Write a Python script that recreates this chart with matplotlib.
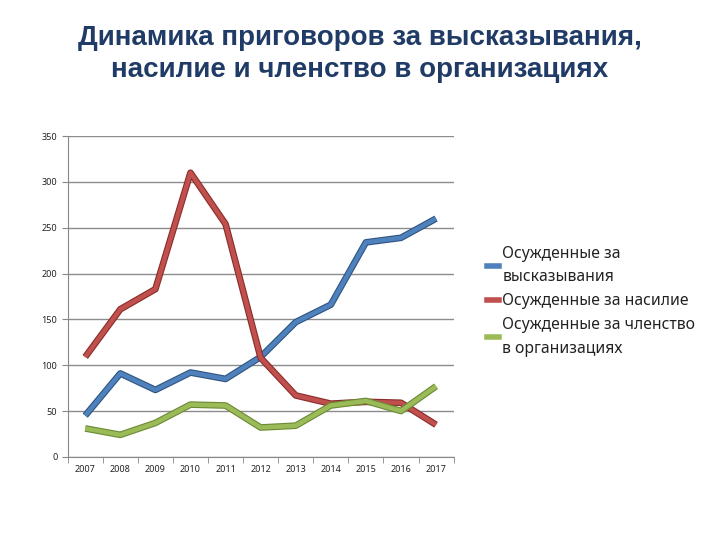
import matplotlib
matplotlib.use("Agg")
import matplotlib.pyplot as plt
import matplotlib.patheffects as pe
from matplotlib.lines import Line2D

years = ["2007", "2008", "2009", "2010", "2011", "2012", "2013", "2014", "2015", "2016", "2017"]
speech = [45, 91, 73, 92, 85, 109, 147, 166, 234, 239, 260]
violence = [109, 161, 183, 310, 254, 108, 67, 58, 60, 59, 35]
membership = [31, 24, 37, 57, 56, 32, 34, 56, 61, 50, 77]

labels = ["Осужденные за\nвысказывания", "Осужденные за насилие",
          "Осужденные за членство\nв организациях"]
colors = ["#4F81BD", "#C0504D", "#9BBB59"]
edges = ["#2E5480", "#8A2C2A", "#6B8A33"]

plt.rcParams['font.family'] = ['Noto Sans', 'DejaVu Sans']

fig = plt.figure(figsize=(7.2, 5.4), dpi=100)
ax = fig.add_axes([0.094, 0.154, 0.536, 0.594])

x = list(range(len(years)))
for vals, c, ec in zip([speech, violence, membership], colors, edges):
    ax.plot(x, vals, color=c, lw=3.2, solid_capstyle='butt', zorder=3,
            path_effects=[pe.Stroke(linewidth=4.8, foreground=ec), pe.Normal()])

ax.set_xlim(-0.5, len(years) - 0.5)
ax.set_ylim(0, 350)
ax.set_yticks(range(0, 351, 50))
ax.yaxis.grid(True, color="#8c8c8c", lw=1)
ax.set_axisbelow(True)

ax.set_xticks(x)
ax.set_xticklabels(years)
ax.set_xticks([i - 0.5 for i in range(len(years) + 1)], minor=True)
ax.tick_params(axis='x', which='major', length=0, labelsize=6.5, pad=6, colors="#222222")
ax.tick_params(axis='x', which='minor', length=4, color="#888888")
ax.tick_params(axis='y', length=4, labelsize=6.5, color="#888888", labelcolor="#222222")

for s in ["top", "right"]:
    ax.spines[s].set_visible(False)
for s in ["left", "bottom"]:
    ax.spines[s].set_color("#888888")

fig.text(0.5, 0.9, "Динамика приговоров за высказывания,\nнасилие и членство в организациях",
         ha='center', va='center', fontsize=20, fontweight='bold', color="#203C66",
         family=['Liberation Sans', 'DejaVu Sans'], linespacing=1.27)

handles = [Line2D([], [], color=c, lw=4) for c in colors]
leg = fig.legend(handles, labels, loc='upper left', bbox_to_anchor=(0.668, 0.556),
                 frameon=False, fontsize=11.3, handlelength=0.75, handletextpad=0.2,
                 labelspacing=0.5, borderaxespad=0)
for t in leg.get_texts():
    t.set_linespacing(1.62)
    t.set_color("#222222")

fig.savefig("out.png", dpi=100)
